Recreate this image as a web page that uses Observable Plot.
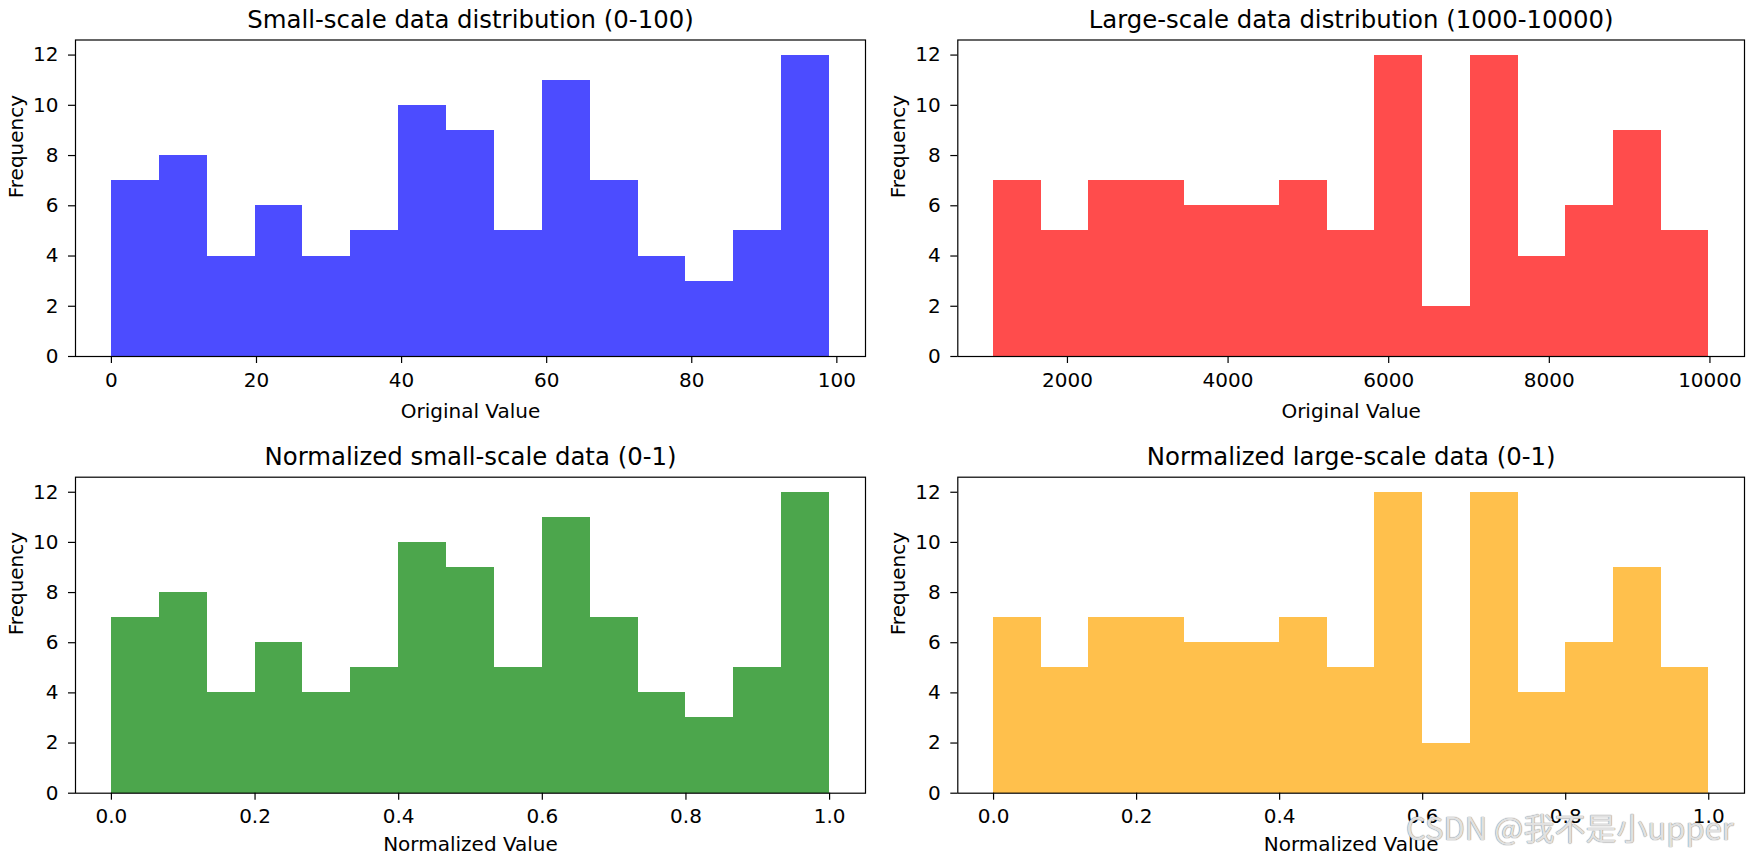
<!DOCTYPE html>
<html>
<head>
<meta charset="utf-8">
<script src="https://cdn.jsdelivr.net/npm/d3@7"></script>
<script src="https://cdn.jsdelivr.net/npm/@observablehq/plot@0.6"></script>
<style>
  html, body { margin: 0; padding: 0; background: white; }
  #fig { position: relative; width: 1749px; height: 857px; background: white; overflow: hidden; }
  #fig > svg { position: absolute; }
  #wm { position: absolute; left: 1406px; top: 811px; font-family: "Noto Sans CJK SC", "DejaVu Sans", sans-serif;
        font-size: 31px; line-height: 1; color: rgba(238,238,238,0.9);
        text-shadow: 0 0 1px #888, 0 0 1px #888; white-space: nowrap; }
</style>
</head>
<body>
<div id="fig"></div>
<script>
// ---- data ----
const smallEdges = [0, 6.6, 13.2, 19.8, 26.4, 33, 39.6, 46.2, 52.8, 59.4, 66, 72.6, 79.2, 85.8, 92.4, 99];
const smallCounts = [7, 8, 4, 6, 4, 5, 10, 9, 5, 11, 7, 4, 3, 5, 12];

const largeEdges = [1080, 1673.7, 2267.3, 2861, 3454.7, 4048.3, 4642, 5235.7, 5829.3, 6423, 7016.7, 7610.3, 8204, 8797.7, 9391.3, 9985];
const largeCounts = [7, 5, 7, 7, 6, 6, 7, 5, 12, 2, 12, 4, 6, 9, 5];

const normEdges = [0, 0.0667, 0.1333, 0.2, 0.2667, 0.3333, 0.4, 0.4667, 0.5333, 0.6, 0.6667, 0.7333, 0.8, 0.8667, 0.9333, 1];
const normSmallCounts = [7, 8, 4, 6, 4, 5, 10, 9, 5, 11, 7, 4, 3, 5, 12];
const normLargeCounts = [7, 5, 7, 7, 6, 6, 7, 5, 12, 2, 12, 4, 6, 9, 5];

const smallTicks = [0, 20, 40, 60, 80, 100];
const largeTicks = [2000, 4000, 6000, 8000, 10000];
const normTicks = [0, 0.2, 0.4, 0.6, 0.8, 1.0];
const freqTicks = [0, 2, 4, 6, 8, 10, 12];

const titles = [
  "Small-scale data distribution (0-100)",
  "Large-scale data distribution (1000-10000)",
  "Normalized small-scale data (0-1)",
  "Normalized large-scale data (0-1)"
];
const xLabels = ["Original Value", "Original Value", "Normalized Value", "Normalized Value"];
const yLabel = "Frequency";
const colors = ["blue", "red", "green", "orange"];

function bins(edges, counts) {
  return counts.map((c, i) => ({x1: edges[i], x2: edges[i + 1], count: c}));
}
function pad(edges) {
  const lo = edges[0], hi = edges[edges.length - 1], m = (hi - lo) * 0.05;
  return [lo - m, hi + m];
}

function panel({edges, counts, ticks, fmt, color, title, xLabel, labelDy, left, top, width, height, ml, mr, mt, mb}) {
  const svg = Plot.plot({
    width, height,
    marginLeft: ml, marginRight: mr, marginTop: mt, marginBottom: mb,
    style: {fontFamily: "DejaVu Sans", fontSize: "20px", color: "black", background: "white", overflow: "visible"},
    x: {domain: pad(edges)},
    y: {domain: [0, 12.6]},
    marks: [
      Plot.rectY(bins(edges, counts), {x1: "x1", x2: "x2", y: "count", fill: color, fillOpacity: 0.7, shapeRendering: "crispEdges"}),
      Plot.frame({stroke: "black", strokeWidth: 1.2}),
      Plot.axisX({ticks, tickFormat: fmt, tickSize: 7, tickPadding: 9, label: null, strokeWidth: 1.2, fontSize: 20}),
      Plot.axisY({ticks: freqTicks, tickFormat: d3.format("d"), tickSize: 7, tickPadding: 10, label: null, strokeWidth: 1.2, fontSize: 20}),
      Plot.text([title], {text: d => d, frameAnchor: "top", dy: -12.5, lineAnchor: "bottom", fontSize: 24.4}),
      Plot.text([xLabel], {text: d => d, frameAnchor: "bottom", dy: labelDy, lineAnchor: "bottom", fontSize: 20}),
      Plot.text([yLabel], {text: d => d, frameAnchor: "left", dx: -53, rotate: -90, lineAnchor: "bottom", fontSize: 20})
    ]
  });
  svg.style.left = left + "px";
  svg.style.top = top + "px";
  return svg;
}

const fig = document.getElementById("fig");
const L = {left: 0, width: 874, ml: 75, mr: 9};
const R = {left: 874, width: 875, ml: 83.3, mr: 5};
const T = {top: 0, height: 428, mt: 39.5, mb: 72, labelDy: 61};
const B = {top: 428, height: 429, mt: 48.7, mb: 64.3, labelDy: 58};

fig.appendChild(panel({edges: smallEdges, counts: smallCounts, ticks: smallTicks, fmt: d3.format("d"), color: colors[0], title: titles[0], xLabel: xLabels[0], ...L, ...T}));
fig.appendChild(panel({edges: largeEdges, counts: largeCounts, ticks: largeTicks, fmt: d3.format("d"), color: colors[1], title: titles[1], xLabel: xLabels[1], ...R, ...T}));
fig.appendChild(panel({edges: normEdges, counts: normSmallCounts, ticks: normTicks, fmt: d3.format(".1f"), color: colors[2], title: titles[2], xLabel: xLabels[2], ...L, ...B}));
fig.appendChild(panel({edges: normEdges, counts: normLargeCounts, ticks: normTicks, fmt: d3.format(".1f"), color: colors[3], title: titles[3], xLabel: xLabels[3], ...R, ...B}));

const wm = document.createElement("div");
wm.id = "wm";
wm.textContent = "CSDN @我不是小upper";
fig.appendChild(wm);
</script>
</body>
</html>
